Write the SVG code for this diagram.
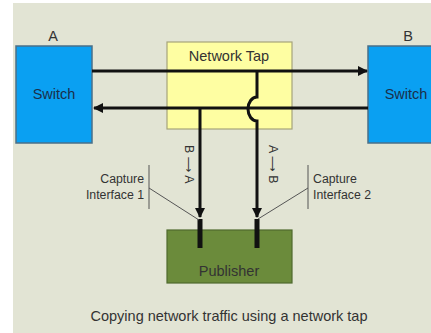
<svg xmlns="http://www.w3.org/2000/svg" width="431" height="333" viewBox="0 0 431 333">
<style>
text{font-family:"Liberation Sans",Arial,sans-serif;fill:#333}
.sw{fill:#0aa0f2;stroke:#4a6f88;stroke-width:1.5}
.lbl{font-size:14.5px;text-anchor:middle}
.sm{font-size:12.3px}
.ar{font-family:"DejaVu Sans",sans-serif;font-size:11px}
.ln{stroke:#111;stroke-width:3;fill:none}
.thin{stroke:#555;stroke-width:1;fill:none}
</style>
<defs>
<marker id="ah" viewBox="0 0 10 10" refX="9" refY="5" markerWidth="10" markerHeight="10" markerUnits="userSpaceOnUse" orient="auto">
<path d="M0,0 L10,5 L0,10 z" fill="#111"/>
</marker>
</defs>
<rect x="0" y="0" width="431" height="333" fill="#ffffff"/>
<rect x="13" y="3" width="418" height="330" fill="#e2e4d4"/>
<g id="switchA">
<rect class="sw" x="16" y="46" width="76" height="97"/>
<text class="lbl" x="54" y="99" style="fill:#1b2f4a">Switch</text>
<text class="lbl" x="53" y="41">A</text>
</g>
<g id="switchB">
<rect class="sw" x="368" y="46" width="70" height="97"/>
<text class="lbl" x="406" y="99" style="fill:#1b2f4a">Switch</text>
<text class="lbl" x="408" y="41">B</text>
</g>
<g id="tap">
<rect x="167" y="42" width="125" height="87" fill="#fefea2" stroke="#a6a47a" stroke-width="1.2"/>
<text class="lbl" x="229" y="61">Network Tap</text>
</g>
<g id="publisher">
<rect x="167" y="230" width="125" height="53" fill="#6b8b3b" stroke="#4f6a2e" stroke-width="1.2"/>
<text class="lbl" x="229" y="276">Publisher</text>
</g>
<g id="connectors">
<line class="ln" x1="92" y1="71" x2="367" y2="71" marker-end="url(#ah)"/>
<line class="ln" x1="368" y1="108" x2="94" y2="108" marker-end="url(#ah)"/>
<line class="ln" x1="200" y1="108" x2="200" y2="217" marker-end="url(#ah)"/>
<path class="ln" d="M257,71 V97 A9,12 0 0 0 257,121 V217" marker-end="url(#ah)"/>
<line x1="200" y1="219" x2="200" y2="248" stroke="#111" stroke-width="5"/>
<line x1="257" y1="219" x2="257" y2="248" stroke="#111" stroke-width="5"/>
<line class="thin" x1="149" y1="165" x2="149" y2="209"/>
<line class="thin" x1="149" y1="188" x2="199" y2="220"/>
<line class="thin" x1="308" y1="165" x2="308" y2="209"/>
<line class="thin" x1="308" y1="188" x2="258" y2="219"/>
</g>
<g id="labels">
<text class="sm" transform="translate(185,145) rotate(90)">B <tspan class="ar">⟶</tspan> A</text>
<text class="sm" transform="translate(269,145) rotate(90)">A <tspan class="ar">⟶</tspan> B</text>
<text class="sm" x="144" y="183" text-anchor="end">Capture</text>
<text class="sm" x="144" y="199" text-anchor="end">Interface 1</text>
<text class="sm" x="313" y="183">Capture</text>
<text class="sm" x="313" y="199">Interface 2</text>
<text class="lbl" x="229" y="321">Copying network traffic using a network tap</text>
</g>
</svg>
